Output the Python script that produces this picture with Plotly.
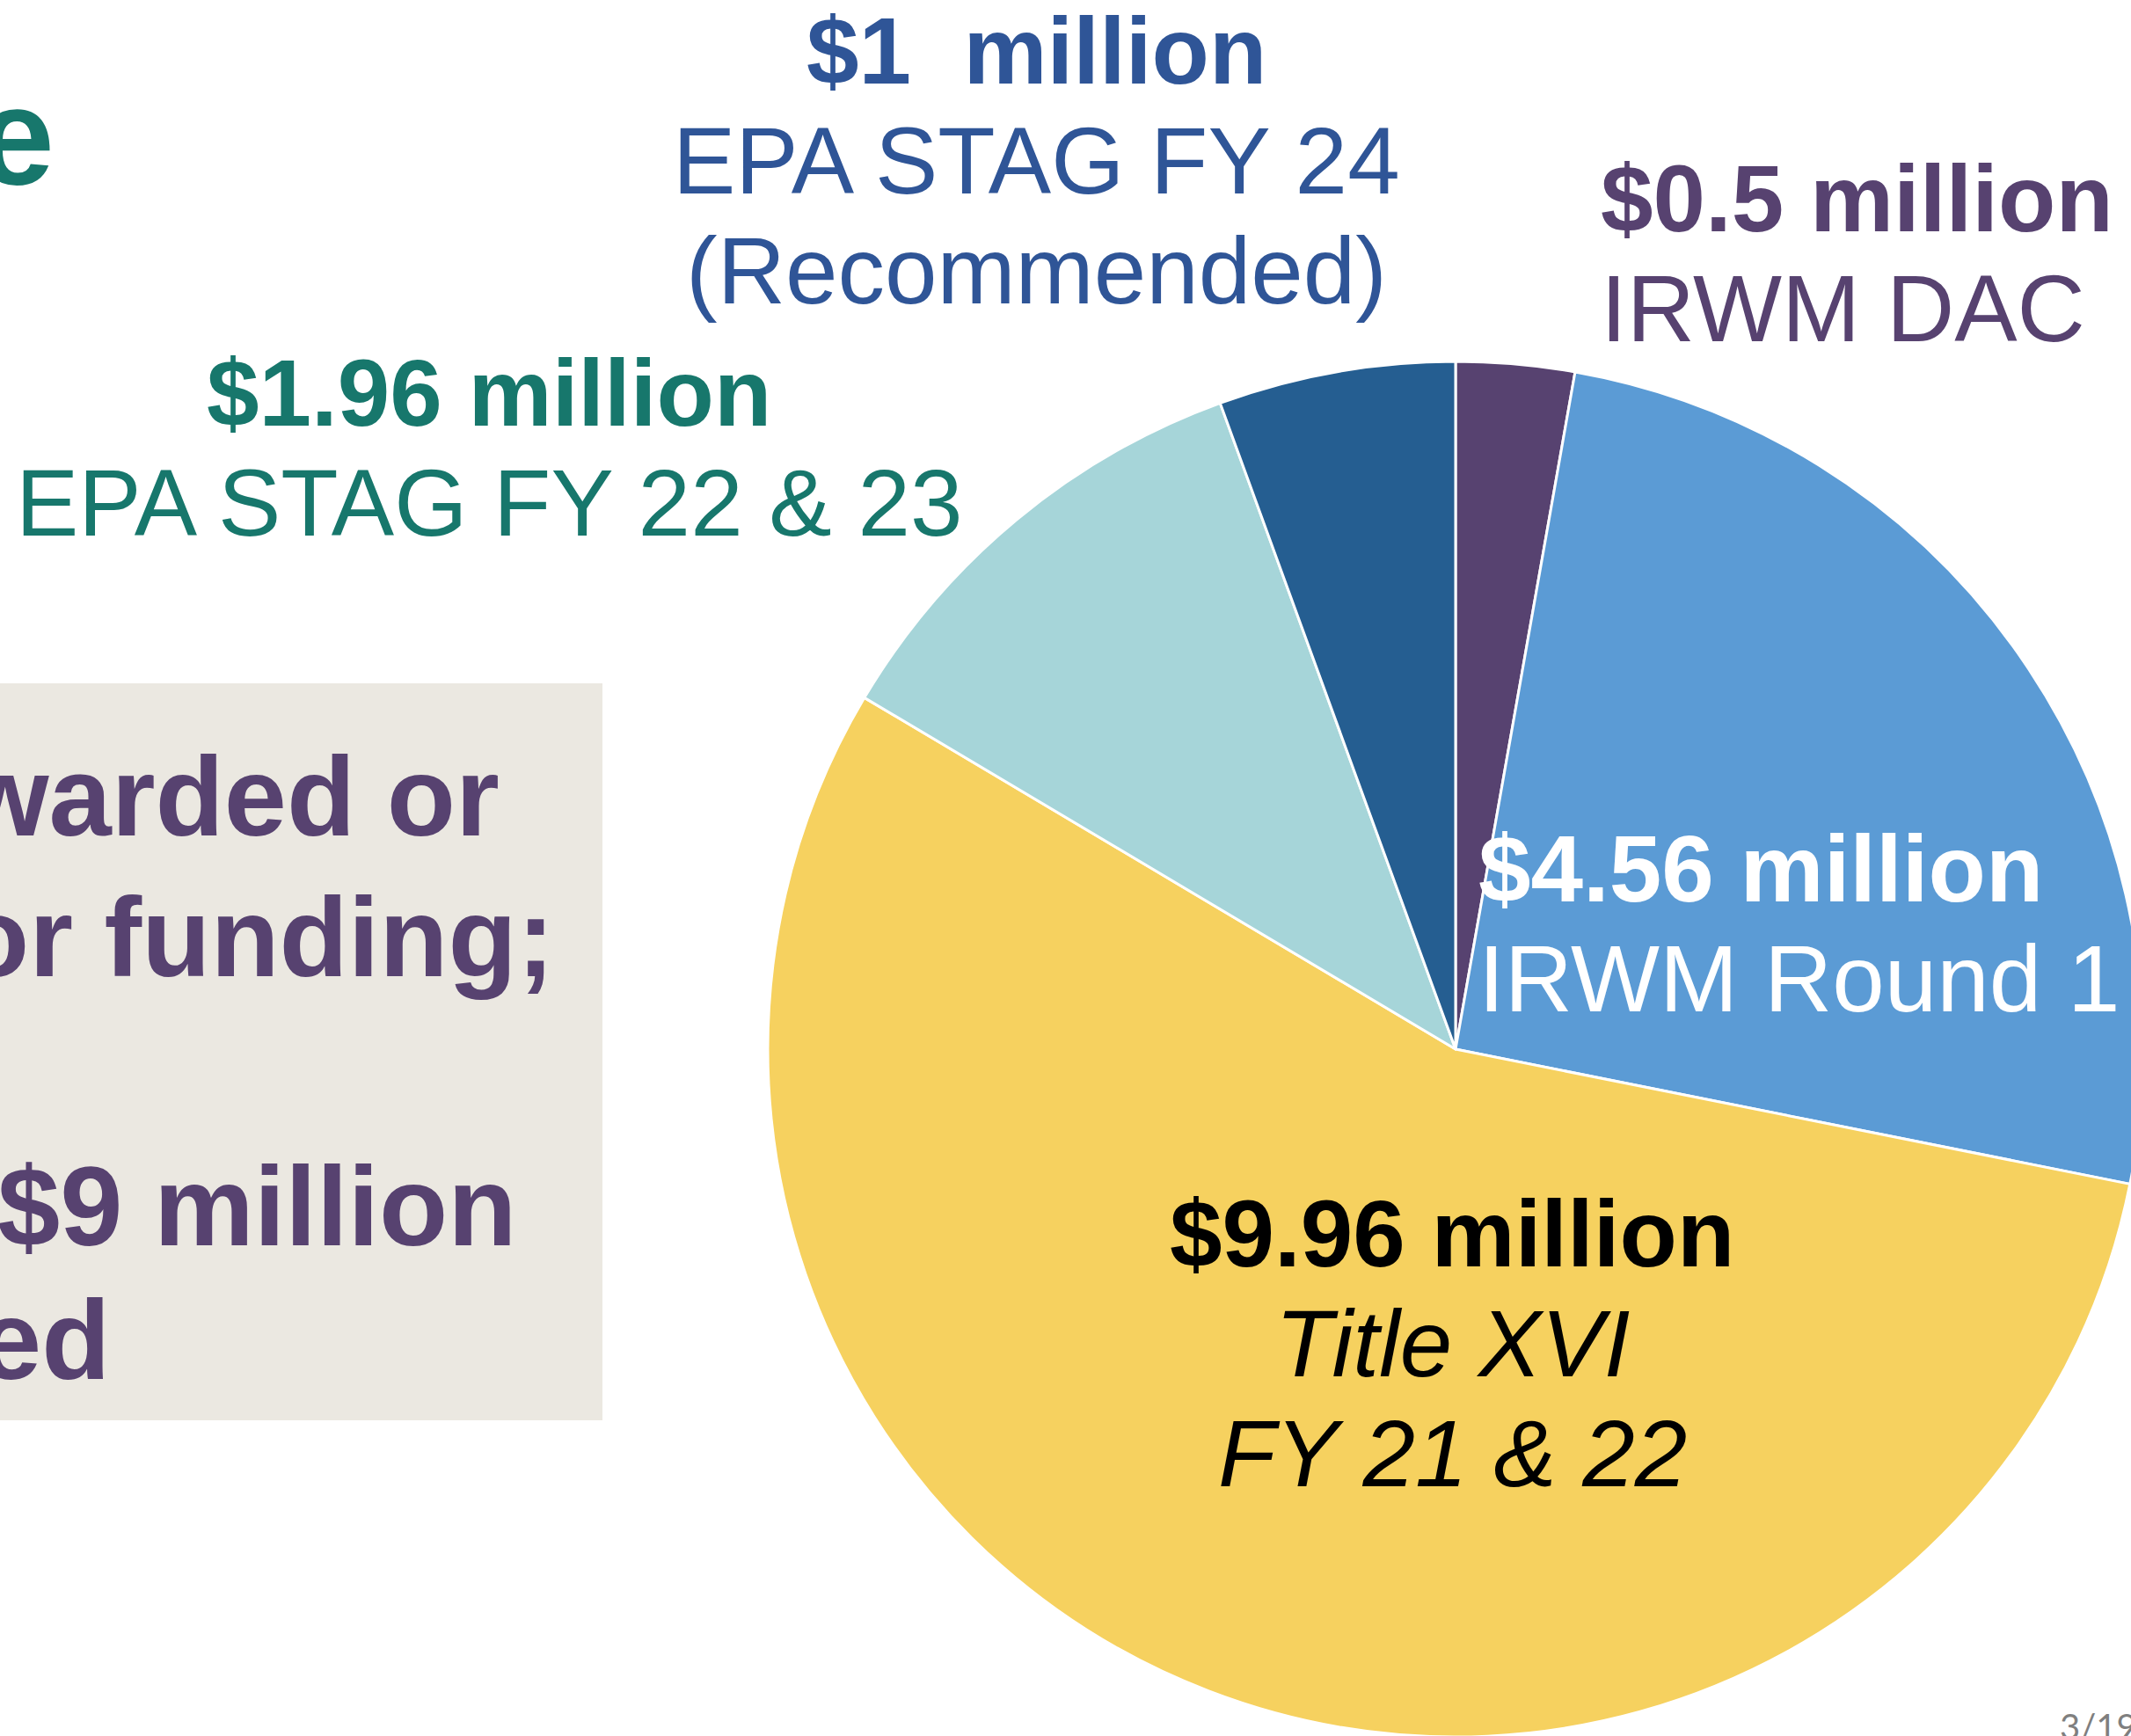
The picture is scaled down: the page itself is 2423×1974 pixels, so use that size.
import plotly.graph_objects as go

# visible window is 2423 x 1974; figure is slightly larger so the pie can run off the edges
W, H = 2440, 1980

# ---- data ----
sources = ["IRWM DAC", "IRWM Round 1", "Title XVI FY 21 & 22",
           "EPA STAG FY 22 & 23", "EPA STAG FY 24 (Recommended)"]
amounts = [0.5, 4.56, 9.96, 1.96, 1.0]          # $ million
amount_text = ["$0.5 million", "$4.56 million", "$9.96 million",
               "$1.96 million", "$1\u00a0 million"]
source_lines = [["IRWM DAC"], ["IRWM Round 1"], ["Title XVI", "FY 21 & 22"],
                ["EPA STAG FY 22 & 23"], ["EPA STAG FY 24", "(Recommended)"]]
box_lines = ["warded or", "or funding;", "$9 million", "ed"]
title_text = "e"
page_text = "3/19"

# ---- styles ----
slice_colors = ["#574270", "#5B9BD5", "#F6D15F", "#A6D5D9", "#255E91"]
label_colors = ["#574270", "#FFFFFF", "#000000", "#17776C", "#2F5597"]
FONT = "Arial, Liberation Sans, sans-serif"


def px(x):
    return x / W


def py(y):
    return 1 - y / H


fig = go.Figure()

# pie geometry (pixels)
cx, cy, r = 1655, 1193, 782
fig.add_trace(go.Pie(
    labels=sources, values=amounts, sort=False, direction="clockwise",
    rotation=0, textinfo="none", hoverinfo="label+value",
    marker=dict(colors=slice_colors, line=dict(color="white", width=3)),
    domain=dict(x=[px(cx - r), min(1.0, px(cx + r))],
                y=[max(0.0, py(cy + r)), py(cy - r)]),
    showlegend=False,
))

annotations = []


def add_line(text, x, baseline, size, color, anchor="center", bold=False, italic=False):
    t = text
    if bold:
        t = "<b>" + t + "</b>"
    if italic:
        t = "<i>" + t + "</i>"
    annotations.append(dict(
        text=t, x=px(x), y=py(baseline - 0.35 * size), xref="paper", yref="paper",
        xanchor=anchor, yanchor="middle", showarrow=False,
        font=dict(family=FONT, size=size, color=color)))


S = 107
# label positions: (x, first baseline, anchor)
label_pos = [(1818, 263, "left"), (1679, 1025, "left"), (1651, 1440, "center"),
             (556, 484, "center"), (1178, 95, "center")]
LS = 125
for i in range(len(amounts)):
    x, b, anc = label_pos[i]
    add_line(amount_text[i], x, b, S, label_colors[i], anc, bold=True)
    for j, ln in enumerate(source_lines[i]):
        add_line(ln, x, b + LS * (j + 1), S, label_colors[i], anc,
                 italic=(i == 2))

# left gray box
fig.add_shape(type="rect", xref="paper", yref="paper",
              x0=0, x1=px(685), y0=py(1615), y1=py(777),
              fillcolor="#EBE8E1", line=dict(width=0), layer="below")

box_rights = [570, 632, 589, 127]
box_bases = [950, 1110, 1416, 1568]
for t, xr, b in zip(box_lines, box_rights, box_bases):
    add_line(t, xr, b, 128, "#574270", "right", bold=True)

# title remnant
add_line(title_text, 64, 209, 158, "#17776C", "right", bold=True)

# page number
annotations.append(dict(
    text=page_text, x=px(2340), y=py(1937), xref="paper", yref="paper",
    xanchor="left", yanchor="top", showarrow=False,
    font=dict(family="Lato, sans-serif", size=40, color="#7F7F7F")))

fig.update_layout(
    width=W, height=H, margin=dict(l=0, r=0, t=0, b=0),
    paper_bgcolor="white", plot_bgcolor="white",
    annotations=annotations,
)

fig.write_html(
    "out.html",
    config={"displayModeBar": False},
    post_script="document.body.style.margin='0px';document.body.style.overflow='hidden';",
)
